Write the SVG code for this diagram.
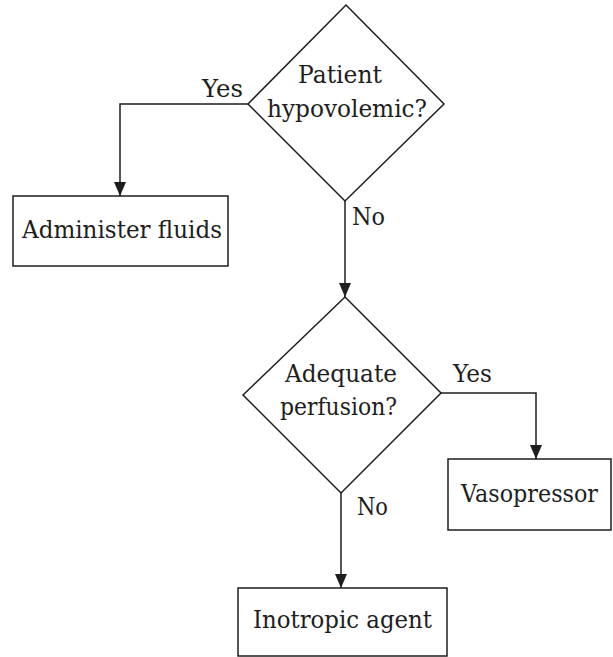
<svg xmlns="http://www.w3.org/2000/svg" width="613" height="657" viewBox="0 0 613 657">
  <style>
    .shape { fill: #fff; stroke: #1e1e1e; stroke-width: 1.5; }
    .edge { fill: none; stroke: #1e1e1e; stroke-width: 1.5; }
  </style>
  <defs>
    <marker id="arrow" viewBox="0 0 14 14" refX="14" refY="7" markerWidth="14" markerHeight="14" markerUnits="userSpaceOnUse" orient="auto">
      <path d="M0,1 L14,7 L0,13 Z" fill="#1e1e1e"/>
    </marker>
  </defs>

  <rect width="613" height="657" fill="#fff"/>

  <g font-family="DejaVu Serif, serif" font-size="25" fill="#1e1e1e">
  <!-- connectors -->
  <g id="edges">
    <path class="edge" d="M248,104 H120 V196" marker-end="url(#arrow)"/>
    <path class="edge" d="M345,201 V297" marker-end="url(#arrow)"/>
    <path class="edge" d="M441,393 H536 V459" marker-end="url(#arrow)"/>
    <path class="edge" d="M341,493 V588" marker-end="url(#arrow)"/>
    <text x="202" y="97" textLength="41" lengthAdjust="spacingAndGlyphs">Yes</text>
    <text x="352" y="225" textLength="33" lengthAdjust="spacingAndGlyphs">No</text>
    <text x="453" y="382" textLength="39" lengthAdjust="spacingAndGlyphs">Yes</text>
    <text x="357" y="515" textLength="31" lengthAdjust="spacingAndGlyphs">No</text>
  </g>

  <!-- decision: hypovolemia -->
  <g id="hypovolemic">
    <polygon class="shape" points="346,5 444,104 345,201 248,104"/>
    <text x="298" y="83" textLength="84" lengthAdjust="spacingAndGlyphs">Patient</text>
    <text x="267" y="117" textLength="160" lengthAdjust="spacingAndGlyphs">hypovolemic?</text>
  </g>

  <!-- action: fluids -->
  <g id="fluids">
    <rect class="shape" x="13" y="196" width="215" height="70"/>
    <text x="22" y="238" textLength="200" lengthAdjust="spacingAndGlyphs">Administer fluids</text>
  </g>

  <!-- decision: perfusion -->
  <g id="perfusion">
    <polygon class="shape" points="345,297 441,393 341,493 243,395"/>
    <text x="285" y="382" textLength="112" lengthAdjust="spacingAndGlyphs">Adequate</text>
    <text x="280" y="415" textLength="117" lengthAdjust="spacingAndGlyphs">perfusion?</text>
  </g>

  <!-- action: vasopressor -->
  <g id="vasopressor">
    <rect class="shape" x="448" y="459" width="163" height="71"/>
    <text x="461" y="502" textLength="137" lengthAdjust="spacingAndGlyphs">Vasopressor</text>
  </g>

  <!-- action: inotrope -->
  <g id="inotrope">
    <rect class="shape" x="238" y="588" width="209" height="68"/>
    <text x="253" y="628" textLength="179" lengthAdjust="spacingAndGlyphs">Inotropic agent</text>
  </g>
  </g>
</svg>
